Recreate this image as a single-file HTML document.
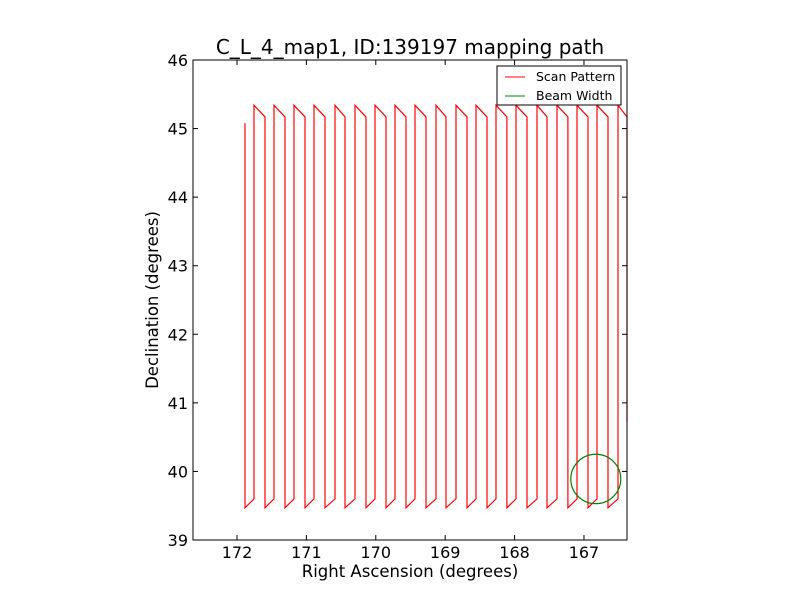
<!DOCTYPE html>
<html><head><meta charset="utf-8"><style>
body{margin:0;background:#fff}
svg{display:block;font-family:"DejaVu Sans","Liberation Sans",sans-serif}
</style></head><body>
<svg id="chart" width="800" height="600">
<defs><clipPath id="clip"><rect x="193" y="60" width="435" height="480"/></clipPath></defs>
<rect x="0" y="0" width="800" height="600" fill="#fff"/>
<text x="410" y="54" text-anchor="middle" font-size="20">C_L_4_map1, ID:139197 mapping path</text>
<g id="marks" clip-path="url(#clip)"></g>
<rect x="193" y="60" width="434" height="480" fill="none" stroke="#000" stroke-width="1"/>
<g id="ticks"></g>
<text x="410" y="577" text-anchor="middle" font-size="16.5">Right Ascension (degrees)</text>
<text x="158" y="300" text-anchor="middle" font-size="16.5" transform="rotate(-90 158 300)">Declination (degrees)</text>
<g>
<rect x="497" y="66" width="124" height="39" fill="#fff" stroke="#000"/>
<line x1="505" y1="77" x2="525" y2="77" stroke="red"/>
<text x="536" y="81" font-size="12.5">Scan Pattern</text>
<line x1="505" y1="96" x2="525" y2="96" stroke="green"/>
<text x="536" y="100" font-size="12.5">Beam Width</text>
</g>
</svg>
<script>
const downRA=[171.885,171.597,171.308,171.020,170.732,170.444,170.141,169.853,169.565,169.277,168.988,168.686,168.398,168.110,167.821,167.533,167.231,166.942,166.654,166.380];
const upRA=[171.755,171.467,171.179,170.890,170.588,170.300,170.012,169.723,169.435,169.133,168.844,168.556,168.268,167.980,167.677,167.389,167.101,166.813,166.510];
const startDec=45.08, topDec=45.34, topAfterDec=45.17, bottomDec=39.47, bottomAfterDec=39.60, endDec=40.73;
const beamCenter=[166.83,39.89], beamRadius=0.36;
const xTicks=[172,171,170,169,168,167];
const yTicks=[39,40,41,42,43,44,45,46];
const xMin=172.634,xMax=166.38,yMin=39,yMax=46;
const X=v=>193+(v-xMin)/(xMax-xMin)*434;
const Y=v=>540-(v-yMin)/(yMax-yMin)*480;
const ns="http://www.w3.org/2000/svg";
const marks=document.getElementById('marks');
let pts=[[downRA[0],startDec]];
for(let i=0;i<downRA.length;i++){
  if(i>0)pts.push([downRA[i],topAfterDec]);
  if(i<upRA.length){pts.push([downRA[i],bottomDec]);pts.push([upRA[i],bottomAfterDec]);pts.push([upRA[i],topDec]);}
  else pts.push([downRA[i],endDec]);
}
const p=document.createElementNS(ns,'polyline');
p.setAttribute('points',pts.map(q=>X(q[0]).toFixed(1)+','+Y(q[1]).toFixed(1)).join(' '));
p.setAttribute('fill','none');p.setAttribute('stroke','red');p.setAttribute('stroke-width','1.2');


marks.appendChild(p);
const c=document.createElementNS(ns,'ellipse');
c.setAttribute('cx',X(beamCenter[0]));c.setAttribute('cy',Y(beamCenter[1]));
c.setAttribute('rx',Math.abs(X(beamCenter[0]+beamRadius)-X(beamCenter[0])));
c.setAttribute('ry',Math.abs(Y(beamCenter[1]+beamRadius)-Y(beamCenter[1])));
c.setAttribute('fill','none');c.setAttribute('stroke','green');c.setAttribute('stroke-width','1.2');


marks.appendChild(c);
const tg=document.getElementById('ticks');
function line(x1,y1,x2,y2){const l=document.createElementNS(ns,'line');l.setAttribute('x1',x1);l.setAttribute('y1',y1);l.setAttribute('x2',x2);l.setAttribute('y2',y2);l.setAttribute('stroke','#000');tg.appendChild(l);}
function text(x,y,s,a){const t=document.createElementNS(ns,'text');t.setAttribute('x',x);t.setAttribute('y',y);t.setAttribute('text-anchor',a);t.setAttribute('font-size','16');t.textContent=s;tg.appendChild(t);return t;}
xTicks.forEach(v=>{const x=X(v);line(x,540,x,535);line(x,60,x,65);
 const t=text(x,558,String(v),'middle');
 
 });
yTicks.forEach(v=>{const y=Y(v);line(193,y,198,y);line(627,y,622,y);
 const t=text(188,y+6,String(v),'end');
 
 });
</script>
</body></html>
